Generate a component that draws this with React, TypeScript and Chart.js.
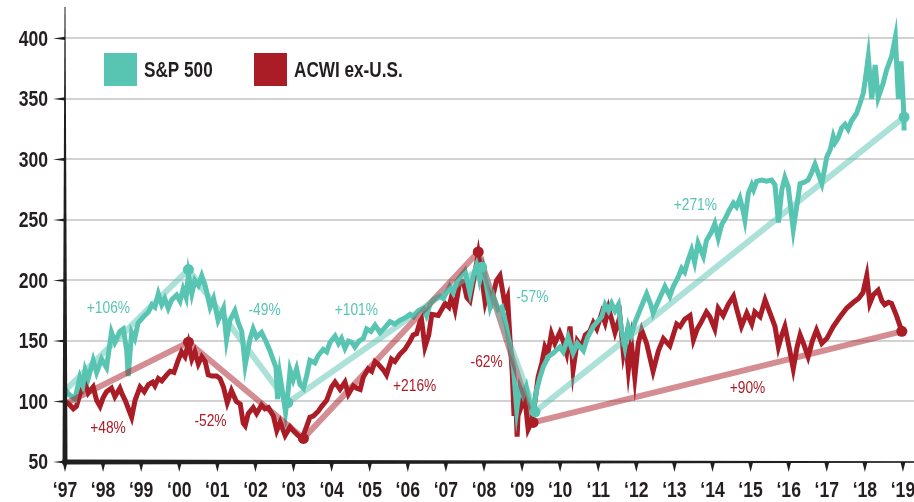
import React, { useEffect, useRef } from 'react';
import { Chart, registerables } from 'chart.js';

Chart.register(...registerables);

const TEAL = '#58c4b2';
const RED = '#aa1c26';
const TEAL_TREND = 'rgba(88,196,178,0.5)';
const RED_TREND = 'rgba(170,28,38,0.5)';
const FONT = '"Liberation Sans", Arial, sans-serif';
const INK = '#231f20';

const seriesLabels = ['S&P 500', 'ACWI ex-U.S.'];
const yearTicks = [1997, 1998, 1999, 2000, 2001, 2002, 2003, 2004, 2005, 2006, 2007, 2008, 2009, 2010, 2011, 2012, 2013, 2014, 2015, 2016, 2017, 2018, 2019];
const valueTicks = [50, 100, 150, 200, 250, 300, 350, 400];

const spDates = [
  1997.00, 1997.10, 1997.26, 1997.39, 1997.47, 1997.53, 1997.61, 1997.74, 1997.83, 1997.96,
  1998.09, 1998.22, 1998.31, 1998.44, 1998.53, 1998.62, 1998.66, 1998.75, 1998.83, 1998.92,
  1999.06, 1999.19, 1999.28, 1999.36, 1999.45, 1999.54, 1999.62, 1999.71, 1999.80, 1999.93,
  2000.02, 2000.10, 2000.18, 2000.24, 2000.33, 2000.41, 2000.50, 2000.59, 2000.68, 2000.81,
  2000.90, 2001.02, 2001.16, 2001.24, 2001.33, 2001.46, 2001.55, 2001.64, 2001.73, 2001.86,
  2001.94, 2002.03, 2002.16, 2002.27, 2002.38, 2002.47, 2002.54, 2002.58, 2002.64, 2002.73,
  2002.79, 2002.85, 2002.91, 2002.99, 2003.08, 2003.17, 2003.26, 2003.35, 2003.43, 2003.56,
  2003.65, 2003.78, 2003.87, 2003.96, 2004.09, 2004.18, 2004.26, 2004.35, 2004.44, 2004.53,
  2004.61, 2004.72, 2004.83, 2004.92, 2005.03, 2005.14, 2005.27, 2005.40, 2005.53, 2005.66,
  2005.79, 2005.92, 2006.06, 2006.15, 2006.28, 2006.41, 2006.49, 2006.58, 2006.67, 2006.84,
  2006.93, 2007.10, 2007.19, 2007.30, 2007.50, 2007.63, 2007.72, 2007.81, 2007.89, 2007.98,
  2008.07, 2008.16, 2008.25, 2008.37, 2008.47, 2008.59, 2008.68, 2008.77, 2008.86, 2008.94,
  2009.03, 2009.11, 2009.20, 2009.29, 2009.38, 2009.47, 2009.56, 2009.69, 2009.82, 2009.99,
  2010.08, 2010.21, 2010.34, 2010.45, 2010.61, 2010.72, 2010.87, 2010.98, 2011.09, 2011.18,
  2011.27, 2011.35, 2011.44, 2011.53, 2011.61, 2011.70, 2011.79, 2011.87, 2011.96, 2012.10,
  2012.27, 2012.38, 2012.44, 2012.55, 2012.75, 2012.88, 2012.97, 2013.10, 2013.19, 2013.27,
  2013.36, 2013.45, 2013.53, 2013.62, 2013.76, 2013.84, 2013.97, 2014.06, 2014.15, 2014.24,
  2014.33, 2014.44, 2014.55, 2014.63, 2014.72, 2014.80, 2014.85, 2014.94, 2015.03, 2015.08,
  2015.16, 2015.29, 2015.42, 2015.55, 2015.64, 2015.73, 2015.82, 2015.90, 2015.99, 2016.12,
  2016.30, 2016.40, 2016.51, 2016.60, 2016.69, 2016.87, 2017.00, 2017.09, 2017.17, 2017.22,
  2017.30, 2017.39, 2017.48, 2017.56, 2017.65, 2017.78, 2017.87, 2017.96, 2018.02, 2018.09,
  2018.18, 2018.27, 2018.35, 2018.48, 2018.57, 2018.70, 2018.80, 2018.88, 2018.95, 2019.02,
  2019.03,
];
const spValues = [
  110, 106, 102, 120, 113, 126, 119, 134, 124, 135,
  128, 157, 149, 158, 160, 142, 121, 157, 152, 165,
  170, 174, 180, 178, 189, 180, 185, 177, 184, 188,
  183, 193, 186, 205, 189, 200, 196, 204, 196, 178,
  185, 167, 177, 151, 167, 175, 165, 158, 130, 152,
  160, 153, 157, 150, 142, 134, 128, 102, 122, 104,
  91, 106, 126, 118, 127, 114, 111, 122, 134, 132,
  138, 143, 141, 149, 154, 148, 152, 144, 150, 149,
  145, 150, 152, 160, 158, 163, 157, 161, 166, 164,
  167, 169, 172, 170, 175, 177, 171, 180, 184, 187,
  185, 195, 190, 200, 208, 190, 204, 213, 200, 211,
  195, 178, 187, 176, 178, 162, 145, 129, 93, 112,
  105, 112, 98, 91, 109, 120, 129, 137, 140, 145,
  141, 153, 140, 148, 142, 153, 162, 166, 170, 180,
  175, 181, 175, 180, 159, 145, 162, 155, 165, 176,
  189, 180, 173, 181, 195, 187, 195, 203, 210, 207,
  217, 225, 215, 231, 220, 233, 240, 247, 235, 246,
  251, 258, 264, 261, 268, 258, 250, 272, 279, 275,
  282, 283, 282, 283, 279, 248, 275, 285, 277, 242,
  280, 281, 283, 289, 296, 280, 302, 308, 319, 314,
  318, 326, 329, 325, 332, 338, 346, 355, 368, 385,
  350, 378, 351, 363, 374, 385, 401, 350, 381, 340,
  324,
];

const acDates = [
  1997.00, 1997.10, 1997.22, 1997.30, 1997.40, 1997.53, 1997.61, 1997.74, 1997.83, 1997.92,
  1998.00, 1998.09, 1998.22, 1998.31, 1998.44, 1998.50, 1998.58, 1998.75, 1998.84, 1998.97,
  1999.08, 1999.19, 1999.30, 1999.36, 1999.45, 1999.54, 1999.67, 1999.76, 1999.86, 1999.97,
  2000.06, 2000.15, 2000.24, 2000.33, 2000.41, 2000.50, 2000.59, 2000.68, 2000.76, 2000.86,
  2000.98, 2001.07, 2001.16, 2001.26, 2001.37, 2001.50, 2001.60, 2001.68, 2001.73, 2001.81,
  2001.94, 2002.03, 2002.16, 2002.25, 2002.34, 2002.47, 2002.56, 2002.65, 2002.78, 2002.91,
  2002.99, 2003.12, 2003.23, 2003.34, 2003.43, 2003.52, 2003.65, 2003.74, 2003.87, 2004.00,
  2004.09, 2004.22, 2004.35, 2004.44, 2004.57, 2004.66, 2004.75, 2004.83, 2004.96, 2005.05,
  2005.14, 2005.22, 2005.36, 2005.44, 2005.57, 2005.66, 2005.79, 2005.92, 2006.06, 2006.14,
  2006.23, 2006.32, 2006.36, 2006.45, 2006.55, 2006.63, 2006.80, 2006.98, 2007.08, 2007.15,
  2007.24, 2007.37, 2007.46, 2007.55, 2007.63, 2007.76, 2007.85, 2007.94, 2008.03, 2008.11,
  2008.20, 2008.33, 2008.42, 2008.55, 2008.62, 2008.68, 2008.74, 2008.79, 2008.83, 2008.87,
  2008.92, 2008.98, 2009.07, 2009.16, 2009.25, 2009.33, 2009.42, 2009.52, 2009.60, 2009.68,
  2009.77, 2009.86, 2009.99, 2010.08, 2010.17, 2010.26, 2010.34, 2010.45, 2010.56, 2010.66,
  2010.78, 2010.87, 2010.96, 2011.09, 2011.18, 2011.27, 2011.35, 2011.44, 2011.57, 2011.66,
  2011.72, 2011.79, 2011.87, 2011.96, 2012.05, 2012.14, 2012.27, 2012.44, 2012.58, 2012.71,
  2012.88, 2013.06, 2013.15, 2013.27, 2013.41, 2013.50, 2013.60, 2013.71, 2013.84, 2013.93,
  2014.06, 2014.15, 2014.28, 2014.41, 2014.55, 2014.63, 2014.76, 2014.90, 2015.03, 2015.11,
  2015.25, 2015.38, 2015.51, 2015.64, 2015.73, 2015.82, 2015.90, 2016.03, 2016.12, 2016.22,
  2016.30, 2016.40, 2016.51, 2016.62, 2016.73, 2016.87, 2017.00, 2017.17, 2017.35, 2017.52,
  2017.70, 2017.83, 2017.95, 2018.05, 2018.13, 2018.22, 2018.35, 2018.45, 2018.52, 2018.62,
  2018.70, 2018.83, 2018.96,
];
const acValues = [
  100, 98, 94, 96, 107, 115, 107, 112, 101, 96,
  103, 108, 111, 104, 111, 106, 101, 87, 101, 112,
  108, 114, 116, 113, 119, 117, 122, 125, 124, 134,
  141, 137, 148, 135, 141, 131, 137, 133, 122, 121,
  121, 119, 112, 99, 109, 100, 98, 82, 80, 90,
  95, 90, 97, 94, 95, 88, 76, 83, 72, 79,
  76, 72, 70, 79, 87, 88, 92, 96, 101, 112,
  116, 110, 116, 106, 113, 111, 110, 120, 127, 125,
  133, 131, 126, 122, 135, 133, 139, 143, 150, 155,
  156, 166, 168, 145, 155, 172, 171, 181, 178, 187,
  176, 200, 199, 186, 183, 206, 222, 203, 182, 192,
  183, 200, 204, 180, 186, 153, 125, 88, 106, 71,
  108, 96, 104, 77, 83, 98, 120, 132, 145, 140,
  156, 148, 157, 150, 140, 162, 126, 150, 145, 155,
  158, 165, 160, 173, 165, 177, 168, 157, 170, 140,
  150, 126, 148, 120, 148, 159, 148, 125, 142, 152,
  146, 164, 162, 168, 171, 151, 160, 166, 174, 170,
  160, 177, 171, 180, 187, 177, 162, 173, 164, 174,
  170, 184, 173, 162, 145, 155, 162, 142, 127, 145,
  155, 147, 137, 150, 159, 148, 152, 162, 170, 177,
  182, 185, 190, 204, 181, 188, 192, 183, 180, 182,
  181, 171, 159,
];

const spTrendDates = [1997.0, 2000.24, 2002.85, 2007.94, 2009.34, 2019.03];
const spTrendValues = [109, 209, 99, 211, 91.5, 335];
const acTrendDates = [1997.0, 2000.24, 2003.26, 2007.85, 2009.29, 2018.97];
const acTrendValues = [98, 149, 69.5, 223.6, 82.7, 158];

const annotationLabels = ['+106%', '-49%', '+101%', '-57%', '+271%', '+48%', '-52%', '+216%', '-62%', '+90%'];
const annotationDates = [1998.14, 2002.24, 2004.65, 2009.27, 2013.55, 1998.13, 2000.82, 2006.18, 2008.07, 2014.92];
const annotationValues = [177, 175.4, 175.4, 186.2, 262.2, 78, 83.7, 112.7, 132.5, 111];
const annotationSeries = [0, 0, 0, 0, 0, 1, 1, 1, 1, 1];

const toPoints = (xs: number[], ys: number[]) => xs.map((x, i) => ({ x, y: ys[i] }));

// draws text horizontally condensed (the source uses a condensed face)
function condensedText(
  ctx: CanvasRenderingContext2D,
  text: string,
  x: number,
  y: number,
  align: CanvasTextAlign,
  sx: number,
) {
  ctx.save();
  ctx.translate(x, y);
  ctx.scale(sx, 1);
  ctx.textAlign = align;
  ctx.fillText(text, 0, 0);
  ctx.restore();
}

const decorPlugin = {
  id: 'decor',
  afterDatasetsDraw(chart: any) {
    const ctx = chart.ctx as CanvasRenderingContext2D;
    const xs = chart.scales.x;
    const ys = chart.scales.y;
    const ca = chart.chartArea;
    ctx.save();

    // annotations
    ctx.font = `16px ${FONT}`;
    ctx.textBaseline = 'middle';
    annotationLabels.forEach((t, i) => {
      ctx.fillStyle = annotationSeries[i] === 0 ? TEAL : RED;
      condensedText(ctx, t, xs.getPixelForValue(annotationDates[i]), ys.getPixelForValue(annotationValues[i]), 'center', 0.86);
    });

    // legend
    const legendX = [104, 254];
    const colors = [TEAL, RED];
    ctx.font = `bold 22px ${FONT}`;
    ctx.textBaseline = 'middle';
    seriesLabels.forEach((lab, i) => {
      ctx.fillStyle = colors[i];
      ctx.fillRect(legendX[i], 53, 33, 33);
      ctx.fillStyle = INK;
      condensedText(ctx, lab, legendX[i] + 40, 71, 'left', 0.78);
    });

    // axes (tapered)
    const left = ca.left;
    const bottom = ca.bottom;
    const right = ca.right;
    const top = ca.top;
    ctx.fillStyle = '#1f1f1f';
    ctx.beginPath();
    ctx.moveTo(left - 0.5, top);
    ctx.lineTo(left + 0.5, top);
    ctx.lineTo(left + 2.5, bottom + 2);
    ctx.lineTo(left - 2.5, bottom + 2);
    ctx.closePath();
    ctx.fill();

    ctx.beginPath();
    ctx.moveTo(left - 2.5, bottom - 2.5);
    ctx.lineTo(right, bottom - 0.7);
    ctx.lineTo(right, bottom + 0.7);
    ctx.lineTo(left - 2.5, bottom + 2.5);
    ctx.closePath();
    ctx.fill();

    yearTicks.forEach((v) => {
      const px = xs.getPixelForValue(v);
      ctx.beginPath();
      ctx.moveTo(px - 2.5, bottom);
      ctx.lineTo(px + 2.5, bottom);
      ctx.lineTo(px, bottom + 10);
      ctx.closePath();
      ctx.fill();
    });
    valueTicks.forEach((v) => {
      const py = ys.getPixelForValue(v);
      ctx.beginPath();
      ctx.moveTo(left, py - 1.6);
      ctx.lineTo(left, py + 1.6);
      ctx.lineTo(left - 12, py);
      ctx.closePath();
      ctx.fill();
    });

    // tick labels
    ctx.fillStyle = INK;
    ctx.font = `bold 22px ${FONT}`;
    ctx.textBaseline = 'middle';
    valueTicks.forEach((v) => {
      condensedText(ctx, String(v), left - 17, ys.getPixelForValue(v) + 1, 'right', 0.8);
    });
    ctx.textBaseline = 'alphabetic';
    yearTicks.forEach((v) => {
      condensedText(ctx, '\u2018' + String(v).slice(2), xs.getPixelForValue(v), bottom + 35, 'center', 0.8);
    });
    ctx.restore();
  },
};

export default function App() {
  const canvasRef = useRef<HTMLCanvasElement | null>(null);

  useEffect(() => {
    if (!canvasRef.current) return;
    const chart = new Chart(canvasRef.current, {
      type: 'line',
      data: {
        datasets: [
          {
            label: 'S&P 500 trend',
            data: toPoints(spTrendDates, spTrendValues),
            borderColor: TEAL_TREND,
            borderWidth: 6,
            pointRadius: spTrendDates.map((_, i) => (i === 0 ? 0 : 5.5)),
            pointBackgroundColor: TEAL,
            pointBorderWidth: 0,
            tension: 0,
            order: 0,
          },
          {
            label: 'ACWI ex-U.S. trend',
            data: toPoints(acTrendDates, acTrendValues),
            borderColor: RED_TREND,
            borderWidth: 6,
            pointRadius: acTrendDates.map((_, i) => (i === 0 ? 0 : 5.5)),
            pointBackgroundColor: RED,
            pointBorderWidth: 0,
            tension: 0,
            order: 1,
          },
          {
            label: seriesLabels[0],
            data: toPoints(spDates, spValues),
            borderColor: TEAL,
            borderWidth: 5,
            pointRadius: 0,
            tension: 0,
            order: 2,
          },
          {
            label: seriesLabels[1],
            data: toPoints(acDates, acValues),
            borderColor: RED,
            borderWidth: 5,
            pointRadius: 0,
            tension: 0,
            order: 3,
          },
        ],
      },
      options: {
        animation: false,
        responsive: false,
        maintainAspectRatio: false,
        events: [],
        layout: { autoPadding: false, padding: { top: 7, left: 0, right: 0, bottom: 0 } },
        plugins: { legend: { display: false }, tooltip: { enabled: false } },
        scales: {
          x: {
            type: 'linear',
            min: 1997,
            max: 2019.29,
            afterBuildTicks: (s: any) => {
              s.ticks = yearTicks.map((v) => ({ value: v }));
            },
            afterFit: (s: any) => {
              s.height = 40;
              s.paddingLeft = 0;
              s.paddingRight = 0;
              s.paddingTop = 0;
              s.paddingBottom = 0;
            },
            grid: { display: false, drawTicks: false },
            border: { display: false },
            ticks: { display: false },
          },
          y: {
            type: 'linear',
            min: 50,
            max: 426,
            afterBuildTicks: (s: any) => {
              s.ticks = valueTicks.map((v) => ({ value: v }));
            },
            afterFit: (s: any) => {
              s.width = 65;
              s.paddingLeft = 0;
              s.paddingRight = 0;
              s.paddingTop = 0;
              s.paddingBottom = 0;
            },
            grid: { color: '#d2d2d2', lineWidth: 2, drawTicks: false },
            border: { display: false },
            ticks: { display: false },
          },
        },
      },
      plugins: [decorPlugin],
    } as any);
    return () => chart.destroy();
  }, []);

  return (
    <div style={{ position: 'absolute', left: 0, top: 0, width: 914, height: 502, background: '#fff' }}>
      <canvas ref={canvasRef} width={914} height={502} style={{ display: 'block' }} />
    </div>
  );
}
